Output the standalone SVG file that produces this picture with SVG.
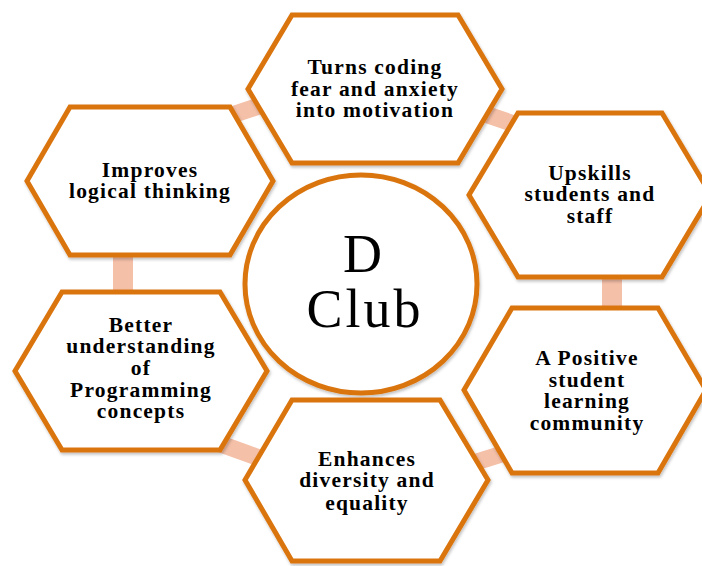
<svg xmlns="http://www.w3.org/2000/svg" width="702" height="566" viewBox="0 0 702 566">
<defs>
<filter id="sh" x="-10%" y="-10%" width="120%" height="120%">
<feDropShadow dx="1" dy="2" stdDeviation="1.5" flood-color="#000" flood-opacity="0.25"/>
</filter>
<style>
.hex{fill:#fff;stroke:#DA7510;stroke-width:5;stroke-linejoin:miter;filter:url(#sh)}
.con{stroke:#F5C0A8;stroke-width:17;fill:none}
.t{font-family:"Liberation Serif","Times New Roman",serif;font-weight:bold;font-size:21.5px;letter-spacing:1.2px;text-anchor:middle;fill:#000}
.c{font-family:"Liberation Serif","Times New Roman",serif;font-size:54px;letter-spacing:3px;text-anchor:middle;fill:#000}
</style>
</defs>
<rect width="702" height="566" fill="#fff"/>
<g id="connectors">
<line class="con" x1="226" y1="117" x2="262" y2="105"/>
<line class="con" x1="482" y1="113" x2="520" y2="126"/>
<line class="con" x1="123" y1="250" x2="123" y2="297" style="stroke-width:20"/>
<line class="con" x1="612" y1="272" x2="612" y2="313" style="stroke-width:20"/>
<line class="con" x1="218" y1="443" x2="262" y2="459"/>
<line class="con" x1="470" y1="464" x2="502" y2="454"/>
</g>
<g id="center">
<ellipse class="hex" cx="361" cy="284" rx="116" ry="109"/>
<text class="c" x="364" y="272">D</text>
<text class="c" x="365" y="327">Club</text>
</g>
<g id="top">
<polygon class="hex" points="248,89 292,15 458,15 502,89 458,163 292,163"/>
<text class="t" x="375" y="74">Turns coding</text>
<text class="t" x="375" y="96">fear and anxiety</text>
<text class="t" x="375" y="117">into motivation</text>
</g>
<g id="left-top">
<polygon class="hex" points="27,181 70,107 230,107 273,181 230,255 70,255"/>
<text class="t" x="150" y="177">Improves</text>
<text class="t" x="150" y="198">logical thinking</text>
</g>
<g id="right-top">
<polygon class="hex" points="469,195 518,113 662,113 711,195 662,277 518,277"/>
<text class="t" x="590" y="180">Upskills</text>
<text class="t" x="590" y="201">students and</text>
<text class="t" x="590" y="223">staff</text>
</g>
<g id="left-bottom">
<polygon class="hex" points="15,371 62,292 220,292 267,371 220,450 62,450"/>
<text class="t" x="141" y="332">Better</text>
<text class="t" x="141" y="353">understanding</text>
<text class="t" x="141" y="375">of</text>
<text class="t" x="141" y="397">Programming</text>
<text class="t" x="141" y="418">concepts</text>
</g>
<g id="right-bottom">
<polygon class="hex" points="464,390 512,308 658,308 706,390 658,473 512,473"/>
<text class="t" x="587" y="365">A Positive</text>
<text class="t" x="587" y="387">student</text>
<text class="t" x="587" y="408">learning</text>
<text class="t" x="587" y="430">community</text>
</g>
<g id="bottom">
<polygon class="hex" points="245,480 292,400 440,400 488,480 440,561 292,561"/>
<text class="t" x="367" y="466">Enhances</text>
<text class="t" x="367" y="487">diversity and</text>
<text class="t" x="367" y="510">equality</text>
</g>
</svg>
